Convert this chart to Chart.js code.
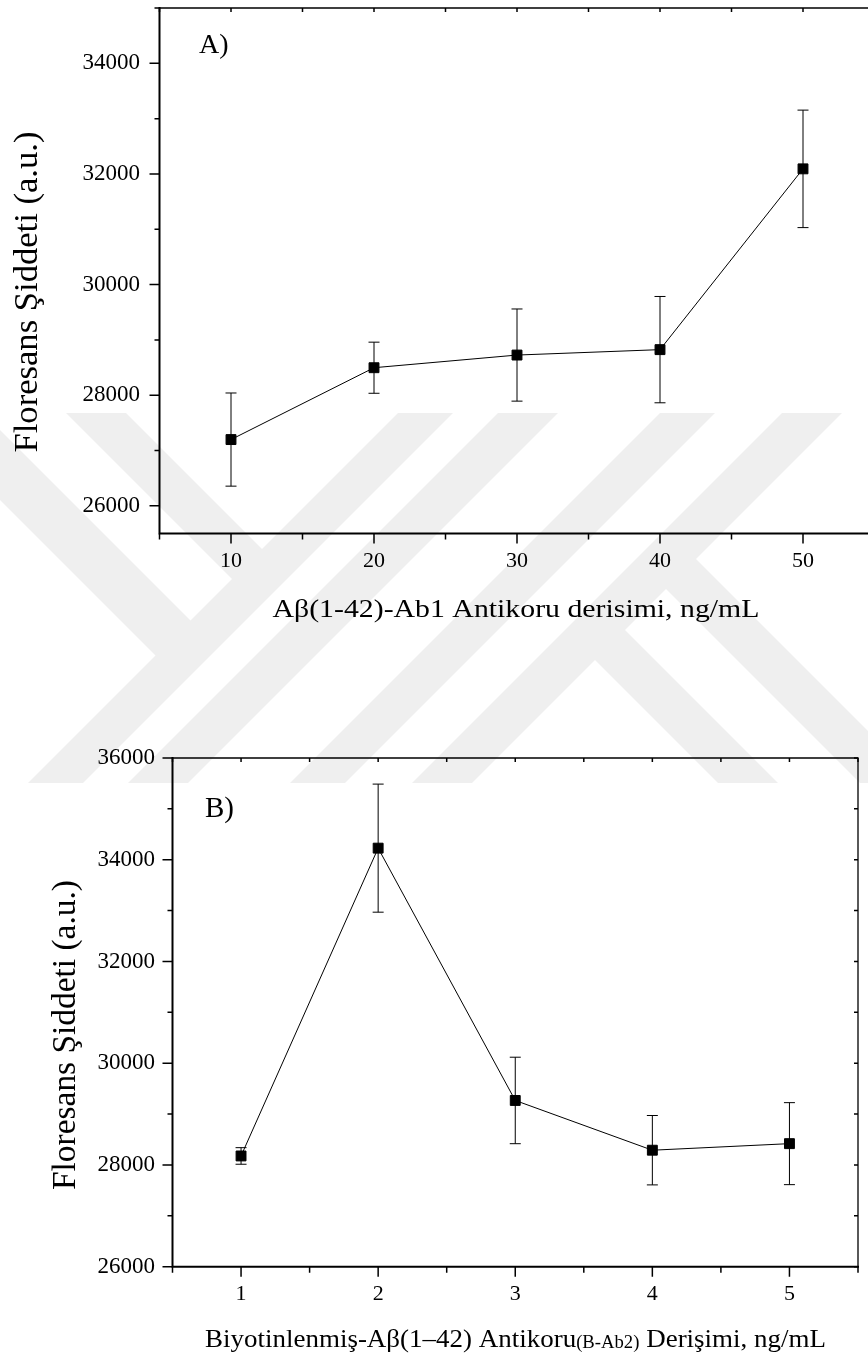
<!DOCTYPE html>
<html>
<head>
<meta charset="utf-8">
<script src="https://cdn.jsdelivr.net/npm/chart.js@4.4.1/dist/chart.umd.min.js"></script>
<style>
  html, body { margin: 0; padding: 0; background: #fff; overflow: hidden; width: 868px; height: 1359px; }
  canvas { position: absolute; left: 0; }
  #wm { top: 0; }
  #chartA { top: 0; }
  #chartB { top: 650px; }
</style>
</head>
<body>
<canvas id="wm" width="868" height="1359"></canvas>
<canvas id="chartA" width="900" height="640"></canvas>
<canvas id="chartB" width="868" height="709"></canvas>
<script>
// panel A: capture antibody concentration
const concA = [10, 20, 30, 40, 50];
const intensA = [27198, 28497, 28726, 28824, 32092];
const errA = [842, 462, 833, 961, 1062];
const xTicksA = [10, 20, 30, 40, 50];
const yTicksA = [26000, 28000, 30000, 32000, 34000];

// panel B: biotinylated antibody concentration
const concB = [1, 2, 3, 4, 5];
const intensB = [28177, 34228, 29268, 28290, 28419];
const errB = [163, 1259, 850, 682, 806];
const xTicksB = [1, 2, 3, 4, 5];
const yTicksB = [26000, 28000, 30000, 32000, 34000, 36000];

const SERIF = '"Liberation Serif", "Times New Roman", serif';

// light grey thesis watermark in the background
(function drawWatermark() {
  const ctx = document.getElementById('wm').getContext('2d');
  const slash = (lo, hi) => [[lo - 300, 300], [hi - 300, 300], [hi - 900, 900], [lo - 900, 900]];
  const back = (lo, hi) => [[300 + lo, 300], [300 + hi, 300], [900 + hi, 900], [900 + lo, 900]];
  const below = c => [[c + 2000, -2000], [-2000, c + 2000], [-2000, -2000]];
  const above = c => [[c - 2000, 2000], [2000, c - 2000], [2000, 2000]];
  const poly = pts => { ctx.beginPath(); pts.forEach((p, i) => i ? ctx.lineTo(p[0], p[1]) : ctx.moveTo(p[0], p[1])); ctx.closePath(); };
  const bands = [
    [back(-500, -430), below(840)],
    [back(-347, -287), below(840)],
    [slash(811, 866)],
    [slash(911, 971)],
    [slash(1073, 1128)],
    [slash(1195, 1255)],
    [back(-65, -5), above(1225)],
    [back(77, 137), above(1225)]
  ];
  ctx.fillStyle = '#efefef';
  bands.forEach(b => {
    ctx.save();
    ctx.beginPath(); ctx.rect(0, 413, 868, 370); ctx.clip();
    if (b[1]) { poly(b[1]); ctx.clip(); }
    poly(b[0]); ctx.fill();
    ctx.restore();
  });
})();

function fitText(ctx, text, size, target) {
  ctx.font = size + 'px ' + SERIF;
  return target / ctx.measureText(text).width;
}

function noPad(s) {
  s.paddingTop = 0; s.paddingBottom = 0; s.paddingLeft = 0; s.paddingRight = 0;
}

function makeChart(id, d) {
  const errorBars = {
    id: 'errorBars',
    beforeDatasetsDraw(chart) {
      const { ctx, scales: { x, y } } = chart;
      ctx.save();
      ctx.strokeStyle = '#000';
      ctx.lineWidth = 1;
      d.xs.forEach((xv, i) => {
        const px = x.getPixelForValue(xv);
        const yt = y.getPixelForValue(d.ys[i] + d.err[i]);
        const yb = y.getPixelForValue(d.ys[i] - d.err[i]);
        ctx.beginPath();
        ctx.moveTo(px, yt); ctx.lineTo(px, yb);
        ctx.moveTo(px - 5.5, yt); ctx.lineTo(px + 5.5, yt);
        ctx.moveTo(px - 5.5, yb); ctx.lineTo(px + 5.5, yb);
        ctx.stroke();
      });
      ctx.restore();
    }
  };

  const frame = {
    id: 'frame',
    afterDraw(chart) {
      const { ctx, chartArea: a, scales: { x, y } } = chart;
      ctx.save();
      ctx.strokeStyle = '#000';
      ctx.lineCap = 'butt';
      // ticks
      ctx.lineWidth = 1.5;
      ctx.beginPath();
      for (let v = d.yFirst; v <= d.yMax + 1e-9; v += d.yMinor) {
        const py = y.getPixelForValue(v);
        const len = d.yTicks.includes(v) ? 10 : 5;
        ctx.moveTo(a.left, py); ctx.lineTo(a.left - len, py);
        ctx.moveTo(a.right, py); ctx.lineTo(a.right - 4, py);
      }
      for (let v = d.xMin; v <= d.xMax + 1e-9; v += d.xMinor) {
        const px = x.getPixelForValue(v);
        const len = d.xTicks.includes(v) ? 10 : 6;
        ctx.moveTo(px, a.bottom); ctx.lineTo(px, a.bottom + len);
        ctx.moveTo(px, a.top); ctx.lineTo(px, a.top + 4);
      }
      ctx.stroke();
      // border
      ctx.lineWidth = 1.3;
      ctx.beginPath();
      ctx.moveTo(a.left, a.top); ctx.lineTo(a.right, a.top); ctx.lineTo(a.right, a.bottom);
      ctx.stroke();
      ctx.lineWidth = 2;
      ctx.beginPath();
      ctx.moveTo(a.left, a.top - 1); ctx.lineTo(a.left, a.bottom); ctx.lineTo(a.right + 1, a.bottom);
      ctx.stroke();

      // texts
      ctx.fillStyle = '#000';
      ctx.textBaseline = 'alphabetic';
      // panel letter
      ctx.font = d.tag.size + 'px ' + SERIF;
      ctx.textAlign = 'left';
      ctx.fillText(d.tag.text, d.tag.x, d.tag.y);
      // y title
      const yt = d.yTitle;
      const sy = fitText(ctx, yt.text, yt.size, yt.len);
      ctx.save();
      ctx.translate(yt.x, yt.cy);
      ctx.rotate(-Math.PI / 2);
      ctx.scale(sy, 1);
      ctx.textAlign = 'center';
      ctx.fillText(yt.text, 0, 0);
      ctx.restore();
      // x title, possibly with a smaller middle part
      const xt = d.xTitle;
      let total = 0;
      xt.parts.forEach(p => { ctx.font = p.size + 'px ' + SERIF; total += ctx.measureText(p.text).width; });
      const sx = xt.width / total;
      ctx.save();
      ctx.translate(xt.x, xt.y);
      ctx.scale(sx, 1);
      ctx.textAlign = 'left';
      let cx = 0;
      xt.parts.forEach(p => {
        ctx.font = p.size + 'px ' + SERIF;
        ctx.fillText(p.text, cx, p.dy || 0);
        cx += ctx.measureText(p.text).width;
      });
      ctx.restore();
      ctx.restore();
    }
  };

  return new Chart(document.getElementById(id), {
    type: 'scatter',
    data: {
      datasets: [{
        data: d.xs.map((xv, i) => ({ x: xv, y: d.ys[i] })),
        showLine: true,
        borderColor: '#000',
        borderWidth: 1,
        tension: 0,
        pointStyle: 'rect',
        pointRadius: 7,
        pointHoverRadius: 7,
        pointBackgroundColor: '#000',
        pointBorderColor: '#000',
        pointBorderWidth: 1,
        clip: false
      }]
    },
    options: {
      responsive: false,
      animation: false,
      events: [],
      layout: { padding: { left: 0, top: d.padTop, right: d.padRight, bottom: 0 } },
      plugins: { legend: { display: false }, tooltip: { enabled: false } },
      scales: {
        x: {
          type: 'linear',
          min: d.xMin,
          max: d.xMax,
          afterBuildTicks: s => { s.ticks = d.xTicks.map(v => ({ value: v })); },
          afterFit: s => { s.height = d.xHeight; noPad(s); },
          grid: { display: false, drawTicks: false },
          border: { display: false },
          ticks: {
            color: '#000',
            font: { family: SERIF, size: d.xTickSize },
            padding: d.xTickPad,
            maxRotation: 0,
            autoSkip: false,
            callback: v => String(v)
          }
        },
        y: {
          type: 'linear',
          min: d.yMin,
          max: d.yMax,
          afterBuildTicks: s => { s.ticks = d.yTicks.map(v => ({ value: v })); },
          afterFit: s => { s.width = d.yWidth; noPad(s); },
          grid: { display: false, drawTicks: false },
          border: { display: false },
          ticks: {
            color: '#000',
            font: { family: SERIF, size: 23 },
            padding: d.yTickPad,
            autoSkip: false,
            callback: v => String(v)
          }
        }
      }
    },
    plugins: [errorBars, frame]
  });
}

makeChart('chartA', {
  xs: concA, ys: intensA, err: errA,
  xTicks: xTicksA, yTicks: yTicksA,
  xMin: 5, xMax: 55, xMinor: 5,
  yMin: 25500, yMax: 35000, yFirst: 26000, yMinor: 1000,
  padTop: 3, padRight: 25.5, yWidth: 159.5, xHeight: 106.5,
  xTickSize: 22, xTickPad: 15, yTickPad: 19.5,
  tag: { text: 'A)', size: 28, x: 199, y: 53 },
  yTitle: { text: 'Floresans Şiddeti (a.u.)', size: 34, x: 37, cy: 292, len: 321 },
  xTitle: { x: 272.5, y: 617, width: 487, parts: [{ text: 'Aβ(1-42)-Ab1 Antikoru derisimi, ng/mL', size: 26 }] }
});

makeChart('chartB', {
  xs: concB, ys: intensB, err: errB,
  xTicks: xTicksB, yTicks: yTicksB,
  xMin: 0.5, xMax: 5.5, xMinor: 0.5,
  yMin: 26000, yMax: 36000, yFirst: 26000, yMinor: 1000,
  padTop: 108, padRight: 10, yWidth: 172.5, xHeight: 92.3,
  xTickSize: 22, xTickPad: 14, yTickPad: 17.5,
  tag: { text: 'B)', size: 29, x: 205, y: 167 },
  yTitle: { text: 'Floresans Şiddeti (a.u.)', size: 34, x: 75, cy: 385, len: 310 },
  xTitle: { x: 205, y: 696.5, width: 621, parts: [
    { text: 'Biyotinlenmiş-Aβ(1–42) Antikoru', size: 26 },
    { text: '(B-Ab2)', size: 18, dy: 1 },
    { text: ' Derişimi, ng/mL', size: 26 }
  ] }
});
</script>
</body>
</html>
